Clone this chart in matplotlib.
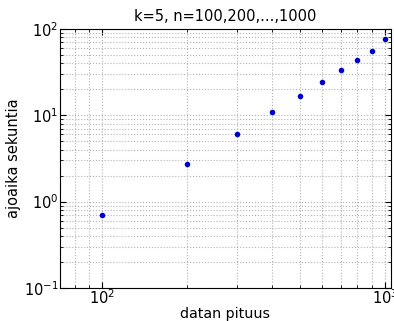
import numpy as np
import matplotlib
matplotlib.use('Agg')
import matplotlib.pyplot as plt

# data length n and measured running time (seconds)
n = [100, 200, 300, 400, 500, 600, 700, 800, 900, 1000]
aika = [0.70, 2.73, 6.1, 10.9, 16.9, 24.3, 33.2, 43.4, 55.6, 76.6]

fig = plt.figure(figsize=(3.94, 3.21), dpi=100)
ax = fig.add_axes([0.152, 0.103, 0.84, 0.807])

ax.loglog(n, aika, 'o', color='#0000cc', markersize=4, markeredgewidth=0)

ax.set_xlim(71, 1050)
ax.set_ylim(0.1, 100)

# dotted grid on major and minor ticks
ax.grid(True, which='both', linestyle=':', color='0.7', linewidth=0.8)

ax.tick_params(which='both', direction='in', top=True, right=True, labelsize=10.5)
ax.tick_params(axis='x', pad=0)
ax.tick_params(axis='y', pad=1)
ax.tick_params(which='major', length=4)
ax.tick_params(which='minor', length=2)

ax.set_title('k=5, n=100,200,...,1000', fontsize=10.5)
ax.set_xlabel('datan pituus', fontsize=10.3, labelpad=0)
ax.set_ylabel('ajoaika sekuntia', fontsize=10.5, labelpad=2)

fig.savefig('out.png', dpi=100)
